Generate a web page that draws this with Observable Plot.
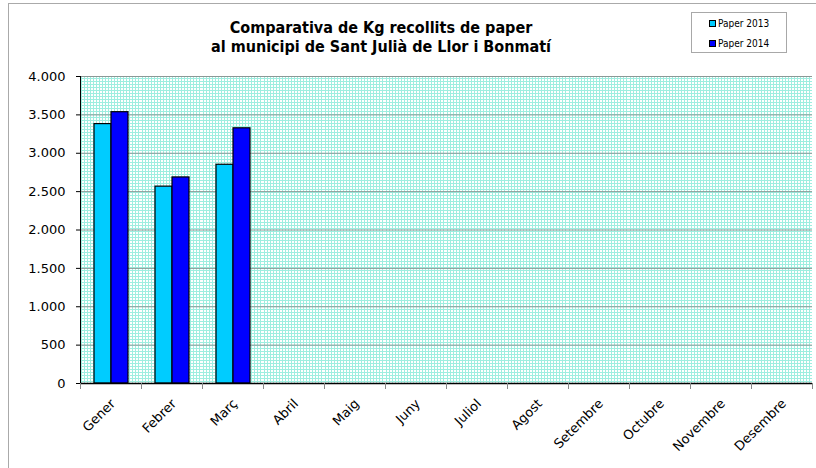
<!DOCTYPE html>
<html>
<head>
<meta charset="utf-8">
<script src="https://cdn.jsdelivr.net/npm/d3@7"></script>
<script src="https://cdn.jsdelivr.net/npm/@observablehq/plot@0.6"></script>
<style>
  html, body { margin: 0; padding: 0; background: #fff; }
  #wrap { position: relative; width: 816px; height: 468px; overflow: hidden; background: #fff; }
  #border { position: absolute; left: 8px; top: 3px; width: 830px; height: 490px; border: 1px solid #aaaaaa; box-sizing: border-box; }
  #title { position: absolute; left: 0; top: 18px; width: 762px; text-align: center; font: bold 16px "DejaVu Sans Condensed", "DejaVu Sans", sans-serif; line-height: 19px; color: #000; }
  #legend { position: absolute; left: 691px; top: 12px; width: 96px; height: 41px; border: 1px solid #a8a8a8; box-sizing: border-box; background: #fff; font: 10px "DejaVu Sans Condensed", "DejaVu Sans", sans-serif; color: #000; }
  #legend .item { position: absolute; left: 17px; display: flex; align-items: center; white-space: nowrap; }
  #legend .sw { width: 5px; height: 5px; border: 1px solid #000; margin-right: 2px; }
  #chart { position: absolute; left: 0; top: 0; }
</style>
</head>
<body>
<div id="wrap">
  <div id="border"></div>
  <div id="chart"></div>
  <div id="title"></div>
  <div id="legend"></div>
</div>
<script>
const titleLines = ["Comparativa de Kg recollits de paper", "al municipi de Sant Julià de Llor i Bonmatí"];
const months = ["Gener", "Febrer", "Març", "Abril", "Maig", "Juny", "Juliol", "Agost", "Setembre", "Octubre", "Novembre", "Desembre"];
const seriesNames = ["Paper 2013", "Paper 2014"];
const seriesColors = ["#00ccff", "#0000ff"];
const values2013 = [3380, 2565, 2850, null, null, null, null, null, null, null, null, null];
const values2014 = [3535, 2685, 3325, null, null, null, null, null, null, null, null, null];
const yTicks = [0, 500, 1000, 1500, 2000, 2500, 3000, 3500, 4000];
const yMax = 4000;

const data = [];
months.forEach((m, i) => {
  if (values2013[i] != null) data.push({month: m, series: seriesNames[0], value: values2013[i]});
  if (values2014[i] != null) data.push({month: m, series: seriesNames[1], value: values2014[i]});
});

const locale = d3.formatLocale({decimal: ",", thousands: ".", grouping: [3], currency: ["", ""]});
const fmt = locale.format(",d");

const W = 816, H = 468, mT = 76, mB = 85, mL = 77, mR = 2;
const plotH = H - mT - mB;

const chart = Plot.plot({
  width: W, height: H,
  marginTop: mT, marginBottom: mB, marginLeft: mL, marginRight: mR,
  style: {fontFamily: "DejaVu Sans, sans-serif", fontSize: "13px", color: "#000", background: "transparent"},
  fx: {domain: months, padding: 0, label: null, axis: null},
  x: {domain: seriesNames, paddingInner: 0, paddingOuter: 0.7, axis: null},
  y: {domain: [0, yMax], label: null},
  color: {domain: seriesNames, range: seriesColors},
  marks: [
    // patterned plot background, one cell per month
    Plot.barY(months, {fx: d => d, y1: 0, y2: yMax, fill: "url(#bgpat)"}),
    Plot.gridY(yTicks, {stroke: "#8b9896", strokeOpacity: 1, strokeWidth: 1}),
    Plot.barY(data, {fx: "month", x: "series", y: "value", fill: "series", stroke: "#000", strokeWidth: 1.2}),
    Plot.ruleY([0], {stroke: "#000", strokeWidth: 1.5}),
    Plot.frame({anchor: "left", facetAnchor: "left", stroke: "#000", strokeWidth: 1}),
    Plot.frame({anchor: "left", stroke: "#888", insetTop: plotH, insetBottom: -5}),
    Plot.frame({anchor: "right", facetAnchor: "right", stroke: "#888", insetTop: plotH, insetBottom: -5}),
    Plot.axisY(yTicks, {tickFormat: fmt, tickSize: 4, tickPadding: 11, fontSize: 13, stroke: "#000"}),
    Plot.text(months, {fx: d => d, text: d => d, frameAnchor: "bottom", rotate: -45, textAnchor: "end", lineAnchor: "middle", dx: 2, dy: 18, fontSize: 13, fontFamily: "DejaVu Sans", fill: "#000"})
  ]
});
document.getElementById("chart").appendChild(chart);

// background pattern used by the plot cells
const svg = d3.select(chart);
const defs = svg.insert("defs", ":first-child");
const pat = defs.append("pattern").attr("id", "bgpat").attr("patternUnits", "userSpaceOnUse").attr("width", 3).attr("height", 3);
pat.append("rect").attr("width", 3).attr("height", 3).attr("fill", "#ffffff");
pat.append("rect").attr("width", 3).attr("height", 1).attr("fill", "#9eeee0");
pat.append("rect").attr("width", 1).attr("height", 3).attr("fill", "#9eeee0");

// title
const t = document.getElementById("title");
titleLines.forEach(l => { const d = document.createElement("div"); d.textContent = l; t.appendChild(d); });

// legend
const lg = document.getElementById("legend");
seriesNames.forEach((s, i) => {
  const it = document.createElement("div");
  it.className = "item";
  it.style.top = (5 + i * 20) + "px";
  const sw = document.createElement("span");
  sw.className = "sw";
  sw.style.background = seriesColors[i];
  const tx = document.createElement("span");
  tx.textContent = s;
  it.appendChild(sw); it.appendChild(tx);
  lg.appendChild(it);
});
</script>
</body>
</html>
